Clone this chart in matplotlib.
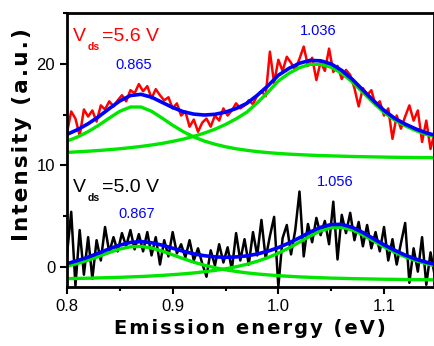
import numpy as np
import matplotlib
matplotlib.use("Agg")
import matplotlib.pyplot as plt
from matplotlib.ticker import MultipleLocator

plt.rcParams['font.family'] = ['Liberation Sans', 'DejaVu Sans']

# measured spectra, 0.004 eV steps from 0.800 eV
raw_56 = [13.2, 15.3, 14.6, 12.9, 15.5, 14.8, 15.4, 14.3, 15.9, 15.5,
          16.3, 15.8, 16.4, 16.9, 16.3, 17.4, 17.1, 18.0, 17.3, 17.8,
          16.6, 17.5, 16.9, 16.4, 16.7, 15.6, 16.1, 14.9, 15.3, 13.8,
          14.5, 13.3, 14.2, 14.6, 13.8, 14.9, 14.4, 15.6, 14.9, 15.4,
          16.1, 15.6, 15.9, 16.4, 16.0, 16.9, 17.3, 16.8, 21.2, 18.1,
          20.4, 19.3, 20.7, 20.1, 19.4, 20.5, 21.7, 19.8, 20.6, 18.4,
          20.2, 19.3, 21.5, 19.2, 19.8, 18.5, 19.4, 18.9, 17.6, 15.8,
          17.6, 16.9, 17.4, 15.9, 16.3, 14.9, 15.6, 12.6, 14.9, 13.6,
          14.8, 15.9, 14.4, 15.4, 12.3, 14.4, 11.6, 13.3]
raw_50 = [1.2, 5.4, -1.9, 3.6, -0.8, 2.9, -1.2, 2.6, 0.6, 3.9,
          1.4, 2.9, 1.5, 3.3, 2.0, 3.6, 1.7, 3.2, 1.5, 3.4,
          1.1, 2.9, 0.2, 2.6, 1.0, 3.4, 1.3, 2.2, 0.9, 2.6,
          0.6, 1.8, 0.3, -1.0, 1.6, 0.1, 2.2, 0.4, 1.9, -0.3,
          3.3, 0.6, 2.7, 0.2, 3.4, 1.1, 4.6, 0.8, 3.0, 4.9,
          -2.0, 2.8, 4.1, 1.2, 3.6, 7.4, 1.0, 4.2, 2.4, 4.8,
          3.1, 4.5, 2.2, 6.4, 0.7, 5.1, 3.3, 5.3, 2.6, 4.4,
          2.0, 4.1, 1.8, 3.4, 1.5, 3.9, 0.6, 2.7, 0.2, 2.3,
          4.3, -1.6, 1.8, -0.5, 2.9, -1.8, 1.4, -0.9]

# fitted curves, 0.01 eV steps from 0.80 eV
fit_56 = [13.04, 13.51, 14.09, 14.79, 15.58, 16.34, 16.87, 16.99, 16.71, 16.20,
          15.69, 15.28, 15.04, 14.95, 15.02, 15.24, 15.59, 16.09, 16.89, 17.82,
          18.87, 19.55, 20.06, 20.34, 20.30, 19.99, 19.35, 18.47, 17.42, 16.37,
          15.41, 14.63, 14.06, 13.58, 13.19, 12.90]
peak1_56 = [12.38, 12.79, 13.31, 13.94, 14.65, 15.32, 15.74, 15.74, 15.32, 14.65,
            13.94, 13.31, 12.79, 12.38, 12.07, 11.82, 11.62, 11.47, 11.34, 11.24,
            11.16, 11.09, 11.04, 10.99, 10.95, 10.92, 10.89, 10.86, 10.84, 10.82,
            10.80, 10.78, 10.77, 10.76, 10.75, 10.74]
peak2_56 = [11.26, 11.32, 11.38, 11.45, 11.53, 11.62, 11.73, 11.85, 11.99, 12.15,
            12.35, 12.57, 12.85, 13.17, 13.55, 14.02, 14.57, 15.22, 16.15, 17.18,
            18.31, 19.06, 19.62, 19.95, 19.95, 19.67, 19.06, 18.21, 17.18, 16.15,
            15.21, 14.45, 13.89, 13.42, 13.04, 12.76]
fit_50 = [0.29, 0.59, 0.93, 1.33, 1.75, 2.12, 2.38, 2.46, 2.35, 2.11,
          1.81, 1.51, 1.25, 1.07, 0.96, 0.91, 0.95, 1.05, 1.24, 1.51,
          1.87, 2.32, 2.84, 3.40, 3.87, 4.15, 4.16, 3.87, 3.36, 2.75,
          2.15, 1.61, 1.13, 0.74, 0.43, 0.17]
peak1_50 = [0.03, 0.31, 0.63, 1.00, 1.39, 1.73, 1.95, 1.99, 1.83, 1.53,
            1.16, 0.78, 0.43, 0.13, -0.11, -0.32, -0.48, -0.62, -0.73, -0.82,
            -0.90, -0.96, -1.02, -1.06, -1.10, -1.14, -1.16, -1.19, -1.21, -1.23,
            -1.25, -1.26, -1.28, -1.29, -1.30, -1.31]
peak2_50 = [-1.19, -1.17, -1.15, -1.12, -1.09, -1.06, -1.02, -0.98, -0.93, -0.87,
            -0.80, -0.72, -0.63, -0.51, -0.38, -0.22, -0.02, 0.22, 0.52, 0.88,
            1.32, 1.83, 2.41, 3.01, 3.52, 3.84, 3.87, 3.61, 3.12, 2.53,
            1.95, 1.42, 0.96, 0.58, 0.28, 0.03]

e_raw = np.linspace(0.800, 1.148, len(raw_56))
e_fit = np.linspace(0.80, 1.15, len(fit_56))

# the original labels are letter-spaced
def spaced(s):
    return '\u200a'.join(s)

fig = plt.figure(figsize=(4.35, 3.46), dpi=100)
ax = fig.add_axes([0.154, 0.171, 0.843, 0.791])

ax.plot(e_raw, raw_56, color='#ff0000', lw=1.8)
ax.plot(e_raw, raw_50, color='black', lw=1.8)
for c in (peak1_56, peak2_56, peak1_50, peak2_50):
    ax.plot(e_fit, c, color='#00e600', lw=2.4)
ax.plot(e_fit, fit_56, color='#0000ff', lw=2.6)
ax.plot(e_fit, fit_50, color='#0000ff', lw=2.6)

# V_ds labels, subscript drawn as a separate small text
for yb, lab, col in ((22.25, '=5.6 V', '#ff0000'), (7.35, '=5.0 V', 'black')):
    ax.text(0.8057, yb, 'V', color=col, fontsize=14, va='baseline')
    ax.text(0.8192, yb - 0.9, 'ds', color=col, fontsize=7.5, fontweight='bold', va='baseline')
    ax.text(0.8330, yb, lab, color=col, fontsize=14, va='baseline')

ax.text(0.863, 19.9, '0.865', color='#0000ff', fontsize=10.5, ha='center', va='center')
ax.text(1.0377, 23.2, '1.036', color='#0000ff', fontsize=10.5, ha='center', va='center')
ax.text(0.866, 5.15, '0.867', color='#0000ff', fontsize=10.5, ha='center', va='center')
ax.text(1.0538, 8.33, '1.056', color='#0000ff', fontsize=10.5, ha='center', va='center')

ax.set_xlim(0.8, 1.147)
ax.set_ylim(-2, 25)
ax.xaxis.set_major_locator(MultipleLocator(0.1))
ax.xaxis.set_minor_locator(MultipleLocator(0.05))
ax.yaxis.set_major_locator(MultipleLocator(10))
ax.yaxis.set_minor_locator(MultipleLocator(5))
ax.tick_params(which='major', direction='out', length=5, width=1.5, labelsize=12)
ax.tick_params(which='minor', direction='out', length=3, width=1.5)
ax.set_xticks([0.8, 0.9, 1.0, 1.1])
ax.set_xticklabels(['0.8', '0.9', '1.0', '1.1'])
for s in ax.spines.values():
    s.set_linewidth(2)

ax.set_xlabel(spaced('Emission energy (eV)'), fontsize=14, fontweight='bold',
              family='DejaVu Sans', labelpad=4)
ax.set_ylabel(spaced('Intensity (a.u.)'), fontsize=15.5, fontweight='bold',
              family='DejaVu Sans')
ax.yaxis.set_label_coords(-0.095, 0.555)

fig.savefig('out.png', dpi=100)
